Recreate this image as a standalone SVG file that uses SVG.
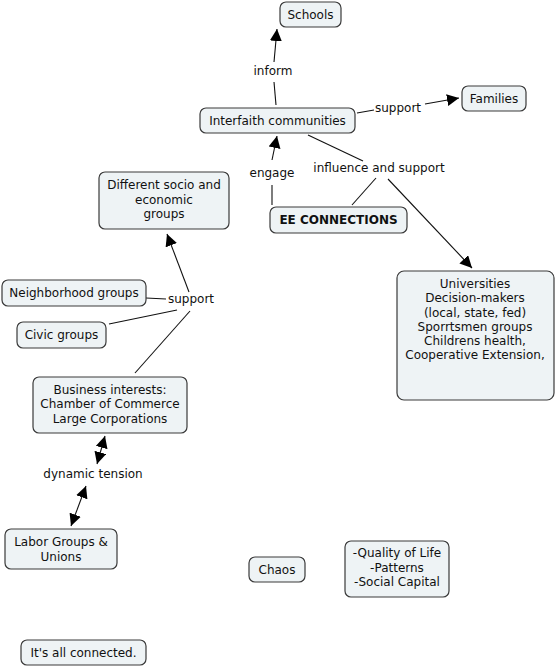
<svg xmlns="http://www.w3.org/2000/svg" width="555" height="666" viewBox="0 0 555 666">
<style>
.n rect{fill:#eef3f5;stroke:#3a3a3a;stroke-width:1.2}
text{font-family:"DejaVu Sans",Verdana,sans-serif;font-size:12px;fill:#111;text-anchor:middle}
.b{font-weight:bold}
.c line{stroke:#111;stroke-width:1.1}
</style>
<defs>
<marker id="a" viewBox="0 0 10 10" refX="10" refY="5" markerWidth="12" markerHeight="12" markerUnits="userSpaceOnUse" orient="auto-start-reverse"><path d="M0,0 L10,5 L0,10 z" fill="#000"/></marker>
</defs>
<rect width="555" height="666" fill="#fff"/>
<g class="c">
<line x1="276" y1="105" x2="274" y2="82"/>
<line x1="274" y1="62" x2="277" y2="29" marker-end="url(#a)"/>
<line x1="357" y1="113" x2="374" y2="110"/>
<line x1="425" y1="104" x2="459" y2="98" marker-end="url(#a)"/>
<line x1="272" y1="205" x2="272" y2="185"/>
<line x1="272" y1="160" x2="277" y2="136" marker-end="url(#a)"/>
<line x1="308" y1="135" x2="363" y2="161"/>
<line x1="352" y1="205" x2="376" y2="178"/>
<line x1="388" y1="179" x2="472" y2="268" marker-end="url(#a)"/>
<line x1="146" y1="298" x2="166" y2="299"/>
<line x1="109" y1="324" x2="177" y2="310"/>
<line x1="135" y1="373" x2="190" y2="311"/>
<line x1="189" y1="292" x2="167" y2="234" marker-end="url(#a)"/>
<line x1="105" y1="436" x2="97" y2="464" marker-start="url(#a)" marker-end="url(#a)"/>
<line x1="86" y1="486" x2="71" y2="526" marker-start="url(#a)" marker-end="url(#a)"/>
</g>
<g>
<text x="273" y="75">inform</text>
<text x="398" y="112">support</text>
<text x="272" y="177">engage</text>
<text x="379" y="172">influence and support</text>
<text x="191" y="303">support</text>
<text x="93" y="478">dynamic tension</text>
</g>
<g id="schools" class="n"><rect x="280" y="2" width="61" height="25" rx="6"/><text x="310.5" y="19">Schools</text></g>
<g id="interfaith" class="n"><rect x="200" y="108" width="155" height="25" rx="6"/><text x="277.5" y="125">Interfaith communities</text></g>
<g id="families" class="n"><rect x="462" y="86" width="64" height="25" rx="6"/><text x="494" y="103">Families</text></g>
<g id="ee" class="n"><rect x="270" y="207" width="137" height="26" rx="6"/><text class="b" x="338.5" y="224">EE CONNECTIONS</text></g>
<g id="socio" class="n"><rect x="99" y="172" width="130" height="57" rx="6"/><text x="164" y="189">Different socio and</text><text x="164" y="204">economic</text><text x="164" y="218">groups</text></g>
<g id="neighborhood" class="n"><rect x="2" y="280" width="144" height="26" rx="6"/><text x="74" y="297">Neighborhood groups</text></g>
<g id="civic" class="n"><rect x="17" y="322" width="89" height="26" rx="6"/><text x="61.5" y="339">Civic groups</text></g>
<g id="business" class="n"><rect x="33" y="377" width="154" height="56" rx="6"/><text x="110" y="394">Business interests:</text><text x="110" y="408">Chamber of Commerce</text><text x="110" y="423">Large Corporations</text></g>
<g id="labor" class="n"><rect x="5" y="529" width="112" height="40" rx="6"/><text x="61" y="546">Labor Groups &amp;</text><text x="61" y="561">Unions</text></g>
<g id="universities" class="n"><rect x="397" y="271" width="157" height="129" rx="7"/><text x="475" y="288">Universities</text><text x="475" y="302">Decision-makers</text><text x="475" y="317">(local, state, fed)</text><text x="475" y="331">Sporrtsmen groups</text><text x="475" y="345">Childrens health,</text><text x="475" y="359">Cooperative Extension,</text></g>
<g id="chaos" class="n"><rect x="249" y="557" width="56" height="25" rx="6"/><text x="277" y="574">Chaos</text></g>
<g id="quality" class="n"><rect x="345" y="541" width="104" height="56" rx="6"/><text x="397" y="557">-Quality of Life</text><text x="397" y="572">-Patterns</text><text x="397" y="586">-Social Capital</text></g>
<g id="connected" class="n"><rect x="21" y="640" width="125" height="25" rx="6"/><text x="83.5" y="657">It's all connected.</text></g>
</svg>
